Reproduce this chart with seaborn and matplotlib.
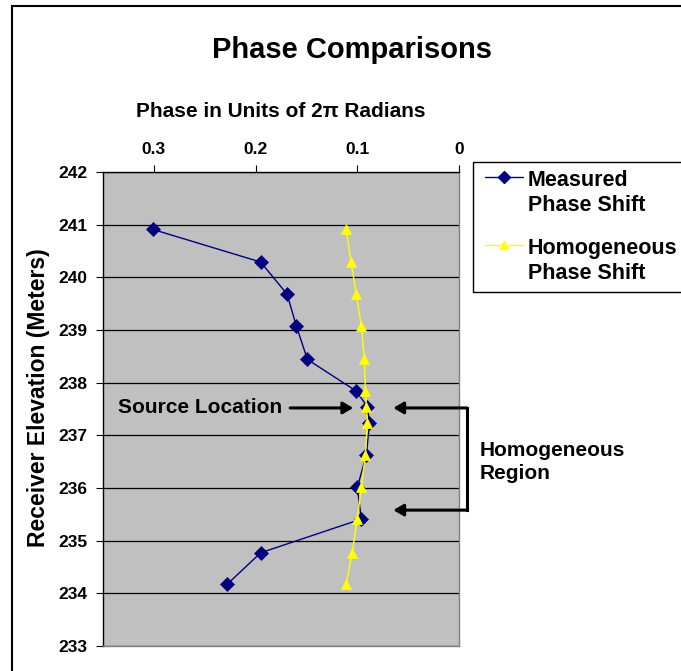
import numpy as np
import pandas as pd
import matplotlib.pyplot as plt
import seaborn as sns
from matplotlib.patches import Rectangle
from matplotlib.lines import Line2D

# receiver elevations (m)
elevation = [240.91, 240.29, 239.68, 239.08, 238.44, 237.84, 237.54,
             237.24, 236.63, 236.01, 235.41, 234.77, 234.17]
# phase in units of 2*pi
measured = [0.301, 0.195, 0.169, 0.160, 0.149, 0.101, 0.090,
            0.088, 0.091, 0.100, 0.096, 0.195, 0.228]
homogeneous = [0.111, 0.106, 0.101, 0.096, 0.093, 0.092, 0.091,
               0.090, 0.092, 0.096, 0.100, 0.105, 0.111]

series_names = ["Measured\nPhase Shift", "Homogeneous\nPhase Shift"]
series_colors = ['#000080', '#FFFF00']
series_markers = ['D', '^']

x_ticks = [0.3, 0.2, 0.1, 0]
x_ticklabels = ['0.3', '0.2', '0.1', '0']
y_ticks = list(range(233, 243))

df = pd.DataFrame({
    "Elevation": elevation * 2,
    "Phase": measured + homogeneous,
    "Series": [series_names[0]] * len(measured) + [series_names[1]] * len(homogeneous),
})

sns.set_style("white")
plt.rcParams['font.family'] = ['Liberation Sans', 'DejaVu Sans']
plt.rcParams['font.weight'] = 'bold'
plt.rcParams['text.color'] = 'black'
plt.rcParams['axes.labelcolor'] = 'black'
plt.rcParams['xtick.color'] = 'black'
plt.rcParams['ytick.color'] = 'black'

fig = plt.figure(figsize=(6.81, 6.71), dpi=100)
ax = fig.add_axes([103/681, 25/671, 356/681, 474/671])
ax.set_facecolor('#C0C0C0')

sns.lineplot(data=df, x="Phase", y="Elevation", hue="Series", style="Series",
             palette=series_colors, markers=series_markers, dashes=False,
             sort=False, estimator=None, linewidth=1, markersize=7,
             markeredgewidth=0.5, legend=False, ax=ax)
for ln, c in zip(ax.lines[:2], series_colors):
    ln.set_markeredgecolor(c)

ax.set_xlim(0.35, 0)
ax.set_ylim(233, 242)
ax.set_xticks(x_ticks)
ax.set_xticklabels(x_ticklabels)
ax.set_yticks(y_ticks)
ax.xaxis.tick_top()
ax.xaxis.set_label_position('top')
ax.tick_params(axis='both', which='both', direction='out', length=5, width=0.8,
               labelsize=12.5, colors='black')
ax.tick_params(axis='x', pad=6, top=True, bottom=False)
ax.tick_params(axis='y', pad=6, left=True)
for lbl in ax.get_xticklabels() + ax.get_yticklabels():
    lbl.set_fontweight('bold')
ax.yaxis.grid(True, color='black', linewidth=0.9)
ax.xaxis.grid(False)
ax.set_xlabel("Phase in Units of 2π Radians", fontsize=15, fontweight='bold', labelpad=18)
ax.set_ylabel("Receiver Elevation (Meters)", fontsize=16.5, fontweight='bold')
ax.yaxis.set_label_coords(-0.15, 0.523)
for side in ['left', 'top']:
    ax.spines[side].set_color('black')
    ax.spines[side].set_linewidth(1)
for side in ['right', 'bottom']:
    ax.spines[side].set_color('#808080')
    ax.spines[side].set_linewidth(1)

fig.text(352/681, 1 - 50/671, "Phase Comparisons", fontsize=21, fontweight='bold',
         ha='center', va='center')

# annotations
arrow_kw = dict(arrowstyle='-|>,head_length=0.6,head_width=0.35', color='black', lw=2.2,
                shrinkA=0, shrinkB=0)
ax.text(0.335, 237.52, "Source Location", fontsize=15, fontweight='bold', va='center', ha='left')
ax.annotate("", xy=(0.104, 237.52), xytext=(0.166, 237.52), arrowprops=arrow_kw,
            annotation_clip=False)
ax.annotate("", xy=(0.0646, 237.52), xytext=(-0.0079, 237.52), arrowprops=arrow_kw,
            annotation_clip=False)
ax.annotate("", xy=(0.0646, 235.58), xytext=(-0.0079, 235.58), arrowprops=arrow_kw,
            annotation_clip=False)
ax.plot([-0.0079, -0.0079], [237.52, 235.58], color='black', lw=2.2, clip_on=False,
        solid_capstyle='projecting')
fig.text(480/681, 1 - 462/671, "Homogeneous\nRegion", fontsize=15, fontweight='bold',
         ha='left', va='center', linespacing=1.25)

# legend box (runs off the right edge like the original)
fig.patches.append(Rectangle((473/681, 1 - 292/671), 0.4, 130/671, transform=fig.transFigure,
                             facecolor='white', edgecolor='black', linewidth=1, figure=fig))
for name, c, m, y in zip(series_names, series_colors, series_markers, [177, 245]):
    yf = 1 - y/671
    fig.add_artist(Line2D([485/681, 504/681, 523/681], [yf, yf, yf], color=c, lw=1,
                          marker=m, markevery=[1], markersize=6, markeredgecolor=c,
                          transform=fig.transFigure))
    fig.text(528/681, 1 - (y + 16)/671, name, fontsize=15.5, fontweight='bold',
             ha='left', va='center', linespacing=1.2)

fig.patches.append(Rectangle((12/681, -0.1), 1.2, 1.1 - 6/671, transform=fig.transFigure,
                             fill=False, edgecolor='black', linewidth=1.5, figure=fig))

fig.savefig("out.png", dpi=100)
